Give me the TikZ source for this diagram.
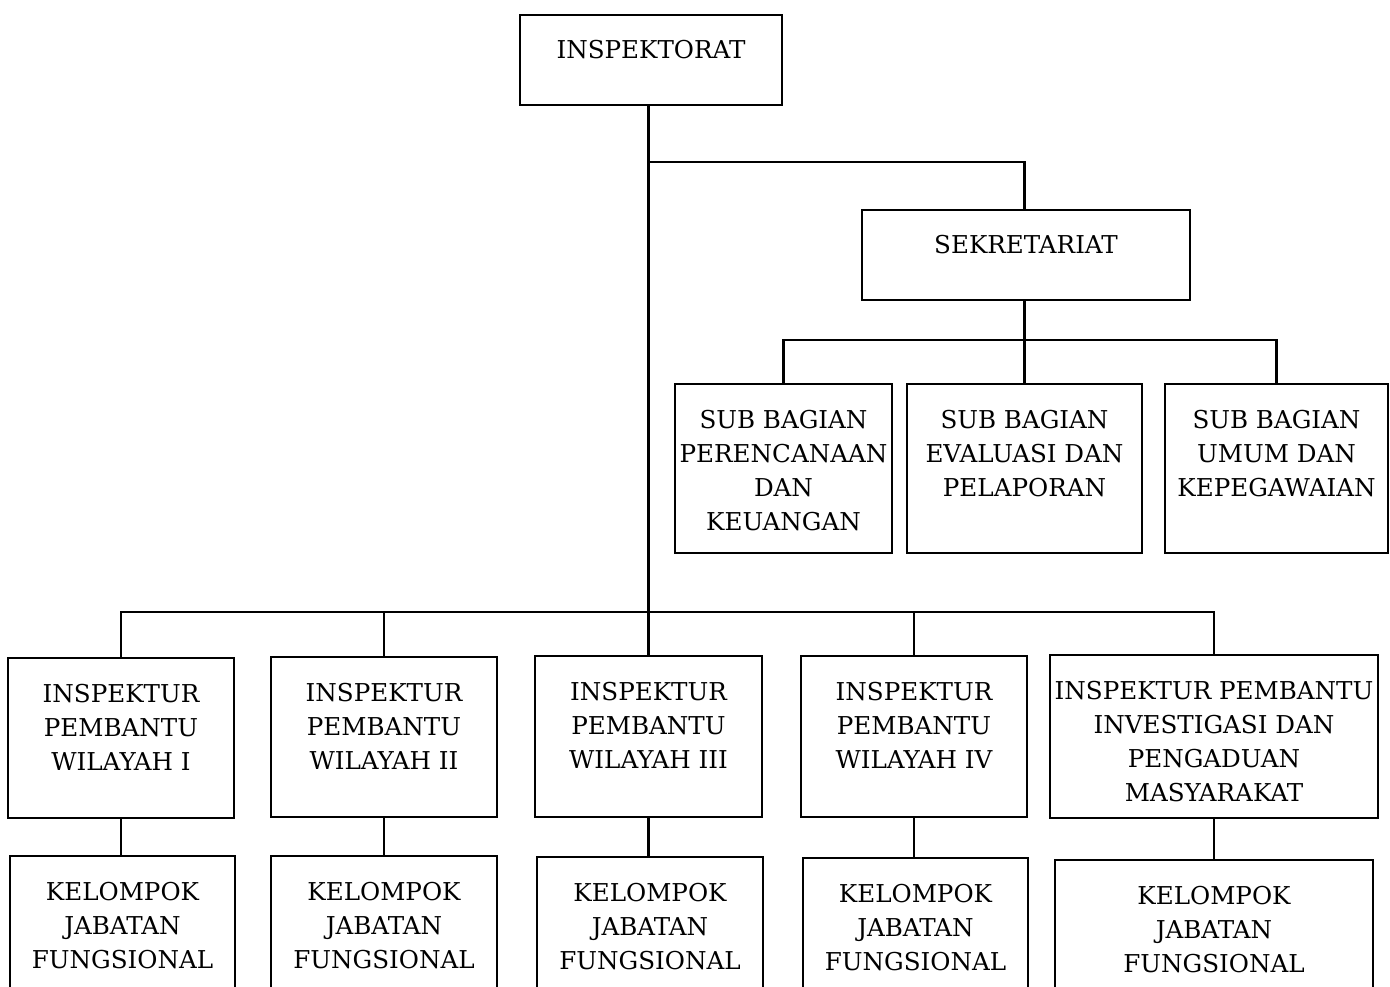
\documentclass[tikz,border=0pt]{standalone}
\usepackage{fontspec}
\setmainfont{DejaVu Serif}
\begin{document}
\begin{tikzpicture}[x=1pt,y=-1pt,
  box/.style={draw, line width=2.8pt, rectangle, inner sep=0pt, outer sep=0pt},
  txt/.style={anchor=north, inner sep=0pt, outer sep=0pt, align=center, font=\fontsize{24.6}{34}\selectfont},
  link/.style={line width=2.8pt}]
\newcommand\orgbox[6]{%
  \node[box, minimum width={#4-#2}, minimum height={#5-#3}] (#1) at ({(#2+#4)/2},{(#3+#5)/2}) {};
  \node[txt] (#1t) at (#1.north) {\rule{0pt}{44pt}#6};
}
\useasboundingbox (0,0) rectangle (1390,987);
\clip (0,0) rectangle (1390,987);
% top
\orgbox{ins}{520}{15}{782}{105}{INSPEKTORAT}
\orgbox{sek}{862}{210}{1190}{300}{SEKRETARIAT}
\orgbox{sb1}{675}{384}{892}{553}{SUB BAGIAN\\PERENCANAAN\\DAN\\KEUANGAN}
\orgbox{sb2}{907}{384}{1142}{553}{SUB BAGIAN\\EVALUASI DAN\\PELAPORAN}
\orgbox{sb3}{1165}{384}{1388}{553}{SUB BAGIAN\\UMUM DAN\\KEPEGAWAIAN}
% inspektur pembantu
\orgbox{ip1}{8}{658}{234}{818}{INSPEKTUR\\PEMBANTU\\WILAYAH I}
\orgbox{ip2}{271}{657}{497}{817}{INSPEKTUR\\PEMBANTU\\WILAYAH II}
\orgbox{ip3}{535}{656}{762}{817}{INSPEKTUR\\PEMBANTU\\WILAYAH III}
\orgbox{ip4}{801}{656}{1027}{817}{INSPEKTUR\\PEMBANTU\\WILAYAH IV}
\orgbox{ip5}{1050}{655}{1378}{818}{INSPEKTUR PEMBANTU\\INVESTIGASI DAN\\PENGADUAN\\MASYARAKAT}
% kelompok jabatan fungsional
\orgbox{kj1}{10}{856}{235}{1017}{KELOMPOK\\JABATAN\\FUNGSIONAL}
\orgbox{kj2}{271}{856}{497}{1017}{KELOMPOK\\JABATAN\\FUNGSIONAL}
\orgbox{kj3}{537}{857}{763}{1017}{KELOMPOK\\JABATAN\\FUNGSIONAL}
\orgbox{kj4}{803}{858}{1028}{1017}{KELOMPOK\\JABATAN\\FUNGSIONAL}
\orgbox{kj5}{1055}{860}{1373}{1017}{KELOMPOK\\JABATAN\\FUNGSIONAL}
% buses
\coordinate (bus1) at (648.5,162);
\coordinate (bus2) at (648.5,612);
\coordinate (bus3) at (1024.5,340);
% trunk
\draw[link] (bus1 |- ins.south) -- (bus2);
\draw[link] (bus1) -| (sb2.north |- sek.north);
% secretariat
\draw[link] (sb2.north |- sek.south) -- (sb2.north);
\draw[link] (sb1.north) |- (bus3) -| (sb3.north);
% bottom bus
\draw[link] (ip1.north) |- (bus2) -| (ip5.north);
\draw[link] (ip2.north) -- (ip2.north |- bus2);
\draw[link] (ip3.north) -- (ip3.north |- bus2);
\draw[link] (ip4.north) -- (ip4.north |- bus2);
% to kelompok
\draw[link] (ip1.south) -- (ip1.south |- kj1.north);
\draw[link] (ip2.south) -- (ip2.south |- kj2.north);
\draw[link] (ip3.south) -- (ip3.south |- kj3.north);
\draw[link] (ip4.south) -- (ip4.south |- kj4.north);
\draw[link] (ip5.south) -- (ip5.south |- kj5.north);
\end{tikzpicture}
\end{document}
